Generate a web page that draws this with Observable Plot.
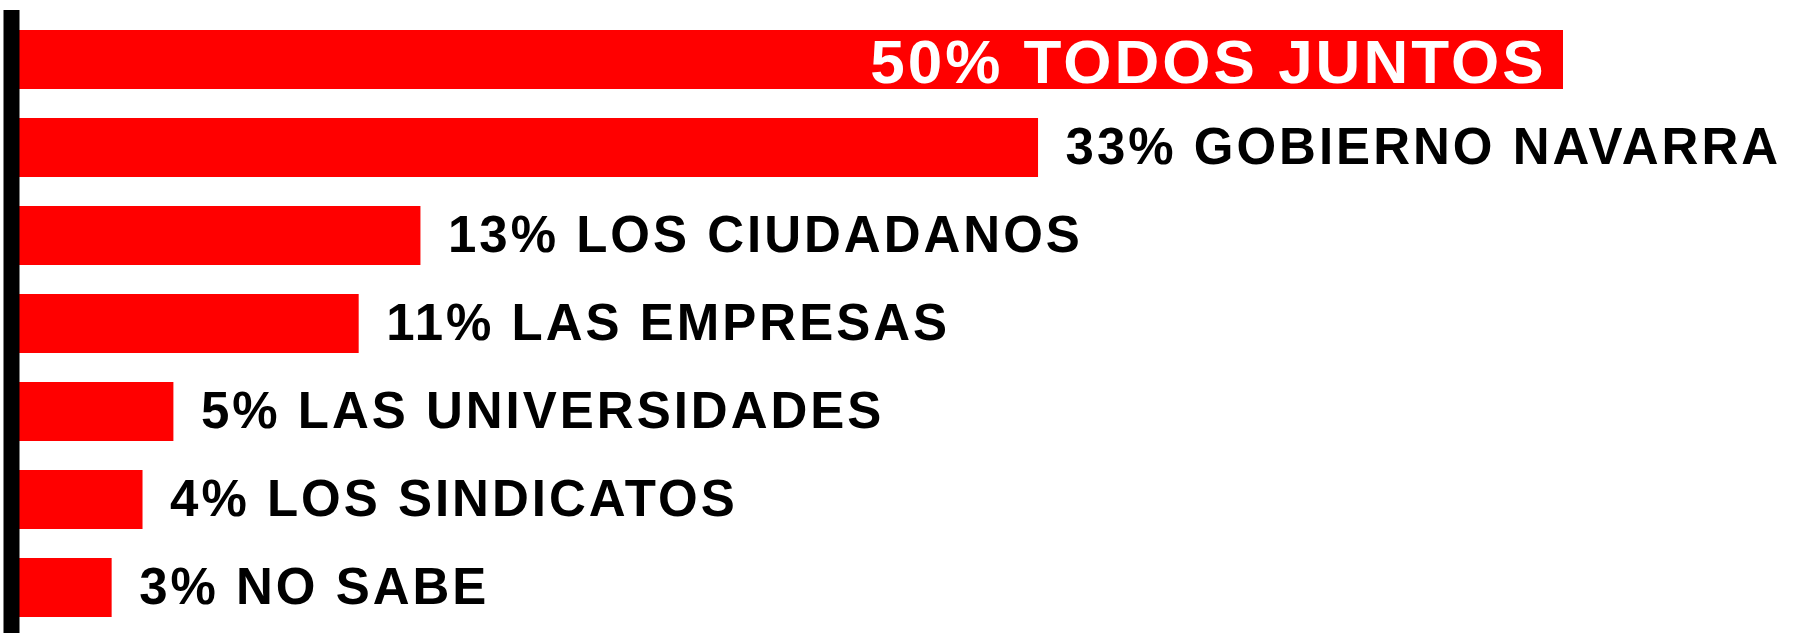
<!DOCTYPE html>
<html>
<head>
<meta charset="utf-8">
<script src="https://cdn.jsdelivr.net/npm/d3@7"></script>
<script src="https://cdn.jsdelivr.net/npm/@observablehq/plot@0.6"></script>
<style>
  html, body { margin: 0; padding: 0; background: #fff; }
  #chart svg { display: block; }
</style>
</head>
<body>
<div id="chart"></div>
<script>
const categories = ["TODOS JUNTOS", "GOBIERNO NAVARRA", "LOS CIUDADANOS", "LAS EMPRESAS", "LAS UNIVERSIDADES", "LOS SINDICATOS", "NO SABE"];
const values = [50, 33, 13, 11, 5, 4, 3];

const data = categories.map((c, i) => ({category: c, value: values[i], label: `${values[i]}% ${c}`}));
const maxValue = d3.max(values);

const chart = Plot.plot({
  width: 1801,
  height: 633,
  marginLeft: 19,
  marginRight: 238,
  marginTop: 10,
  marginBottom: 0,
  style: {background: "#fff", fontFamily: "'Liberation Sans', Arial, sans-serif"},
  x: {domain: [0, 50], axis: null},
  y: {domain: categories, axis: null, paddingInner: 0.333, paddingOuter: 0.186, align: 0.545},
  marks: [
    Plot.barX(data, {x: "value", y: "category", fill: "#ff0000"}),
    Plot.ruleX([0], {stroke: "#000", strokeWidth: 16, dx: -8}),
    Plot.text(data.filter(d => d.value === maxValue), {
      x: "value", y: "category", text: "label",
      textAnchor: "end", dx: -17, dy: 3,
      fill: "#fff", fontSize: 62, fontWeight: "bold"
    }),
    Plot.text(data.filter(d => d.value !== maxValue), {
      x: "value", y: "category", text: "label",
      textAnchor: "start", dx: 27,
      fill: "#000", fontSize: 51, fontWeight: "bold"
    })
  ]
});
chart.querySelectorAll("text").forEach(t => {
  const white = t.getAttribute("fill") === "#fff" || t.closest("g")?.getAttribute("fill") === "#fff";
  t.style.letterSpacing = white ? "3px" : "3px";
});
document.getElementById("chart").appendChild(chart);
</script>
</body>
</html>
